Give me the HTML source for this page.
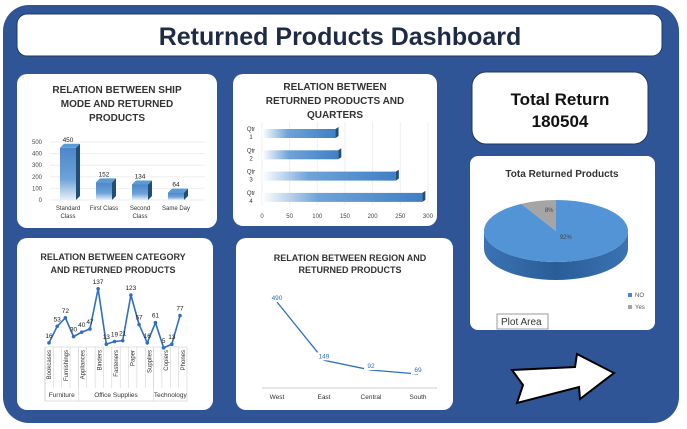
<!DOCTYPE html>
<html><head><meta charset="utf-8"><style>
body{margin:0;background:#fff;width:687px;height:429px;overflow:hidden}
svg{display:block;font-family:"Liberation Sans",sans-serif}
</style></head><body>
<svg id="s" width="687" height="429" viewBox="0 0 687 429" xmlns="http://www.w3.org/2000/svg">
<defs>
<linearGradient id="vb" x1="0" y1="0" x2="0" y2="1"><stop offset="0" stop-color="#4a86c8"/><stop offset="0.6" stop-color="#6fa3d8"/><stop offset="1" stop-color="#e6f0fa"/></linearGradient>
<linearGradient id="hb" x1="0" y1="0" x2="1" y2="0"><stop offset="0" stop-color="#ffffff"/><stop offset="0.35" stop-color="#6fa3d8"/><stop offset="1" stop-color="#3f7fc4"/></linearGradient>
<linearGradient id="pieSide" x1="0" y1="0" x2="1" y2="0"><stop offset="0" stop-color="#3a73b3"/><stop offset="0.5" stop-color="#2a5d98"/><stop offset="1" stop-color="#3a73b3"/></linearGradient>
</defs>
<rect x="3" y="5" width="676" height="418" rx="26" fill="#2f5597"/>
<rect x="17" y="14" width="645" height="42" rx="10" fill="#fff" stroke="#1f3864"/>
<text x="340" y="45" text-anchor="middle" font-size="25" font-weight="bold" fill="#1f2a44">Returned Products Dashboard</text>

<rect x="17" y="74" width="200" height="154" rx="10" fill="#fff"/>
<g font-size="10" font-weight="bold" fill="#333" text-anchor="middle"><text x="117" y="93">RELATION BETWEEN SHIP</text><text x="117" y="107">MODE AND RETURNED</text><text x="117" y="121">PRODUCTS</text></g>
<g id="ship"></g>

<rect x="233" y="74" width="204" height="152" rx="10" fill="#fff"/>
<g font-size="10" font-weight="bold" fill="#333" text-anchor="middle"><text x="335" y="90">RELATION  BETWEEN</text><text x="335" y="104">RETURNED PRODUCTS AND</text><text x="335" y="118">QUARTERS</text></g>
<g id="qtr"></g>

<rect x="472" y="72" width="176" height="72" rx="14" fill="#fff" stroke="#1f3864"/>
<text x="560" y="105" text-anchor="middle" font-size="17" font-weight="bold" fill="#111">Total Return</text>
<text x="560" y="127" text-anchor="middle" font-size="17" font-weight="bold" fill="#111">180504</text>

<rect x="470" y="156" width="185" height="174" rx="8" fill="#fff"/>
<text x="562" y="177" text-anchor="middle" font-size="10" font-weight="bold" fill="#333">Tota Returned Products</text>
<g id="pie"></g>
<rect x="628" y="293" width="4" height="4" fill="#4a86c8"/><text x="635" y="297" font-size="6" fill="#555">NO</text>
<rect x="628" y="305" width="4" height="4" fill="#a5a5a5"/><text x="635" y="309" font-size="6" fill="#555">Yes</text>
<rect x="497" y="314" width="51" height="15" fill="#fff" stroke="#999"/>
<text x="501" y="325" font-size="10" fill="#333">Plot Area</text>

<rect x="17" y="238" width="196" height="172" rx="10" fill="#fff"/>
<g font-size="9" font-weight="bold" fill="#333" text-anchor="middle"><text x="113" y="260">RELATION BETWEEN CATEGORY</text><text x="113" y="273">AND RETURNED PRODUCTS</text></g>
<g id="cat"></g>

<rect x="236" y="238" width="217" height="172" rx="10" fill="#fff"/>
<g font-size="9" font-weight="bold" fill="#333" text-anchor="middle"><text x="350" y="261">RELATION BETWEEN REGION AND</text><text x="350" y="273">RETURNED PRODUCTS</text></g>
<g id="reg"></g>

<polygon points="512,370 575,367 577,354 614,373 580,399 579,387 517,403 523,385" fill="#fff" stroke="#000" stroke-width="2"/>
</svg>
<script>
const NS="http://www.w3.org/2000/svg";
function mk(p,t,a,txt){const e=document.createElementNS(NS,t);for(const k in a)e.setAttribute(k,a[k]);if(txt!==undefined)e.textContent=txt;p.appendChild(e);return e;}

// Ship mode
const shipCats=["Standard|Class","First Class","Second|Class","Same Day"];
const shipVals=[450,152,134,64];
const shipTicks=[0,100,200,300,400,500];
// Quarters
const qtrCats=["Qtr|1","Qtr|2","Qtr|3","Qtr|4"];
const qtrVals=[133,138,242,290];
const qtrTicks=[0,50,100,150,200,250,300];
// Category
const subCats=["Bookcases","Chairs","Furnishings","Tables","Appliances","Art","Binders","Envelopes","Fasteners","Labels","Paper","Storage","Supplies","Accessories","Copiers","Machines","Phones"];
const subVals=[16,53,72,30,40,47,137,13,19,21,123,57,16,61,5,13,77];
const groups=[["Furniture",4],["Office Supplies",9],["Technology",4]];
// Region
const regCats=["West","East","Central","South"];
const regVals=[490,149,92,69];
// Pie
const pieLabels=["NO","Yes"];
const pieVals=[92,8];

// ship chart
{const g=document.getElementById('ship');
 const y=v=>200-v*0.116, x0=68, step=36;
 shipTicks.forEach(t=>{const l=mk(g,'line',{x1:50,x2:205,y1:y(t),y2:y(t),stroke:'#eee'});
  
  const tx=mk(g,'text',{x:42,y:y(t)+2,'font-size':6,'text-anchor':'end',fill:'#444'},t);
  });
 shipVals.forEach((v,i)=>{const cx=x0+i*step, top=y(v);
  const side=mk(g,'polygon',{points:`${cx+8},${top} ${cx+12},${top-4} ${cx+12},${200-4} ${cx+8},200`,fill:'#1f4e79'});
  
  const tp=mk(g,'polygon',{points:`${cx-8},${top} ${cx-4},${top-4} ${cx+12},${top-4} ${cx+8},${top}`,fill:'#5b9bd5'});
  
  const r=mk(g,'rect',{x:cx-8,y:top,width:16,height:200-top,fill:'url(#vb)'});
  
  const lb=mk(g,'text',{x:cx,y:top-6,'font-size':6.5,'text-anchor':'middle',fill:'#222'},v);
  
  shipCats[i].split('|').forEach((s,j)=>{const c=mk(g,'text',{x:cx,y:210+j*8,'font-size':6,'text-anchor':'middle',fill:'#333'},s);
   });
 });}

// quarter chart
{const g=document.getElementById('qtr');
 const x=v=>262+v*0.553;
 qtrTicks.forEach(t=>{const l=mk(g,'line',{x1:x(t),x2:x(t),y1:122,y2:205,stroke:'#eee'});
  
  const tx=mk(g,'text',{x:x(t),y:218,'font-size':6,'text-anchor':'middle',fill:'#444'},t);
  });
 qtrVals.forEach((v,i)=>{const cy=133+i*21.3, w=x(v)-x(0);
  const r=mk(g,'rect',{x:x(0),y:cy-4,width:w,height:9,fill:'url(#hb)'});
  
  const sd=mk(g,'polygon',{points:`${x(v)},${cy-4} ${x(v)+3},${cy-6} ${x(v)+3},${cy+3} ${x(v)},${cy+5}`,fill:'#1f4e79'});
  
  qtrCats[i].split('|').forEach((s,j)=>{const c=mk(g,'text',{x:251,y:cy-2+j*8,'font-size':6,'text-anchor':'middle',fill:'#333'},s);
   });
 });}

// category chart
{const g=document.getElementById('cat');
 const n=subVals.length, x=i=>49+i*(131/(n-1)), y=v=>350-v*0.447;
 const bx0=45, bw=(187-45)/n;
 const box=mk(g,'rect',{x:bx0,y:347,width:bw*n,height:54,fill:'none',stroke:'#ccc','stroke-width':0.6});
 
 subCats.forEach((c,i)=>{const l=mk(g,'line',{x1:bx0+i*bw,x2:bx0+i*bw,y1:347,y2:388,stroke:'#ccc','stroke-width':0.5});
  
  if(i%2===0){const cx=bx0+i*bw+bw/2;const t=mk(g,'text',{x:0,y:0,'font-size':6,fill:'#333','text-anchor':'end',transform:`translate(${cx+2},350) rotate(-90)`},c);
   }});
 let acc=0;groups.forEach(([gname,cnt])=>{const cx=bx0+(acc+cnt/2)*bw;
  const l=mk(g,'line',{x1:bx0+acc*bw,x2:bx0+acc*bw,y1:347,y2:401,stroke:'#ccc','stroke-width':0.5});
  
  const t=mk(g,'text',{x:cx,y:397,'font-size':6.5,'text-anchor':'middle',fill:'#333'},gname);
  acc+=cnt;});
 const ln=mk(g,'polyline',{points:subVals.map((v,i)=>x(i)+','+y(v)).join(' '),fill:'none',stroke:'#2e6fbf','stroke-width':1.6});
 
 subVals.forEach((v,i)=>{const p=mk(g,'circle',{cx:x(i),cy:y(v),r:1.8,fill:'#2e6fbf'});
  
  const t=mk(g,'text',{x:x(i),y:y(v)-5,'font-size':6.5,'text-anchor':'middle',fill:'#222'},v);
  });}

// region chart
{const g=document.getElementById('reg');
 const y=v=>374-(v-69)*0.171;
 const ax=mk(g,'line',{x1:262,x2:437,y1:388,y2:388,stroke:'#ccc'});
 
 const xp=i=>277+i*47;
 const ln=mk(g,'polyline',{points:regVals.map((v,i)=>xp(i)+','+y(v)).join(' '),fill:'none',stroke:'#2e6fbf','stroke-width':1.3});
 
 regVals.forEach((v,i)=>{const bg=mk(g,'rect',{x:xp(i)-7,y:y(v)-8,width:14,height:8,fill:'#fff'});
  
  const t=mk(g,'text',{x:xp(i),y:y(v)-2,'font-size':6.5,'text-anchor':'middle',fill:'#2e6fbf'},v);
  
  const c=mk(g,'text',{x:xp(i),y:399,'font-size':6.5,'text-anchor':'middle',fill:'#333'},regCats[i]);
  });}

// pie
{const g=document.getElementById('pie');
 const cx=556,cy=231,rx=72,ry=31,d=18;
 const tot=pieVals.reduce((a,b)=>a+b,0);
 const side=mk(g,'path',{d:`M${cx-rx},${cy} A${rx},${ry} 0 0 0 ${cx+rx},${cy} L${cx+rx},${cy+d} A${rx},${ry} 0 0 1 ${cx-rx},${cy+d} Z`,fill:'url(#pieSide)'});
 
 const cols=['#5294d6','#a5a5a5'];
 pieVals.forEach((v,i)=>{
  const s=i===0?-Math.PI/2:-Math.PI/2-(pieVals[1]/tot)*2*Math.PI;
  const e=i===0?-Math.PI/2+(v/tot)*2*Math.PI:-Math.PI/2;
  const p1=[cx+rx*Math.cos(s),cy+ry*Math.sin(s)],p2=[cx+rx*Math.cos(e),cy+ry*Math.sin(e)];
  const large=(e-s)>Math.PI?1:0;
  const sl=mk(g,'path',{d:`M${cx},${cy} L${p1[0]},${p1[1]} A${rx},${ry} 0 ${large} 1 ${p2[0]},${p2[1]} Z`,fill:cols[i]});
  
  const m=(s+e)/2;const t=mk(g,'text',{x:cx+rx*0.55*Math.cos(m)+(i===0?0:3),y:cy+ry*(i===0?0.2:0.7)*Math.sin(m)+2,'font-size':6,'text-anchor':'middle',fill:'#444'},v+'%');
  });}
</script>
</body></html>
